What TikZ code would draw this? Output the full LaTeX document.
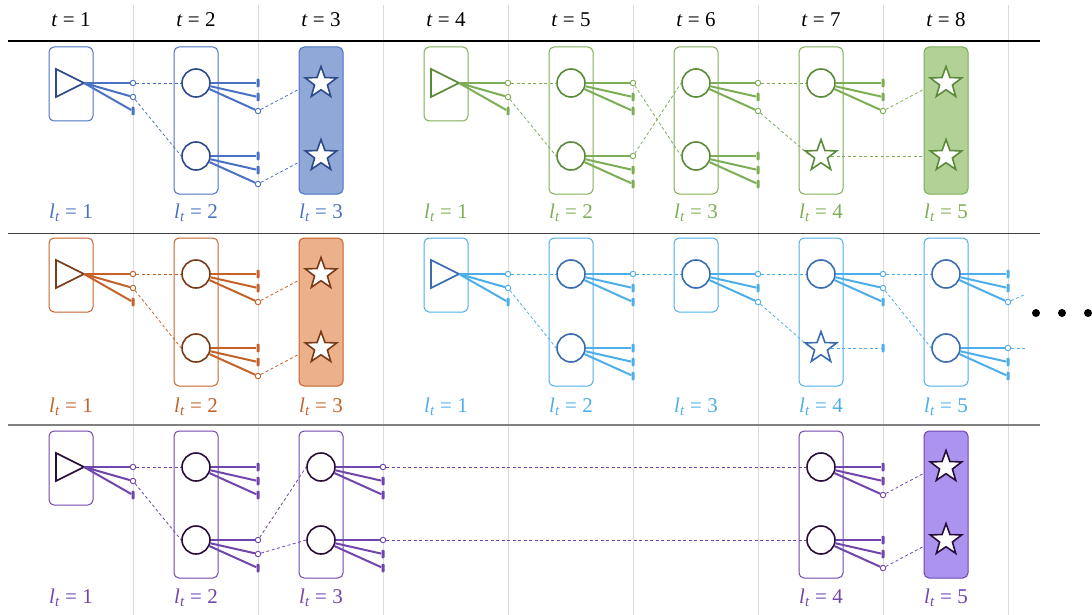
\documentclass[tikz,border=0pt]{standalone}
\usepackage{fontspec}
\setmainfont{Liberation Serif}
\usetikzlibrary{shapes.geometric, backgrounds}

\definecolor{blueL}{HTML}{4A72C4}
\definecolor{blueD}{HTML}{2E4A8A}
\definecolor{blueF}{HTML}{8FA8D8}
\definecolor{greenL}{HTML}{7DAE55}
\definecolor{greenD}{HTML}{5B8A3A}
\definecolor{greenF}{HTML}{B1D196}
\definecolor{orangeL}{HTML}{C4622A}
\definecolor{orangeD}{HTML}{7A3C18}
\definecolor{orangeF}{HTML}{ECB08A}
\definecolor{skyL}{HTML}{4DAEEA}
\definecolor{skyD}{HTML}{3A6CB0}
\definecolor{purpleL}{HTML}{7045AC}
\definecolor{purpleD}{HTML}{2A0E3A}
\definecolor{purpleF}{HTML}{AB94F0}

\tikzset{
  box/.style={draw=lc, line width=1pt, rounded corners=5pt},
  ring/.style={circle, draw=nc, fill=white, line width=1.6pt, minimum size=28pt, inner sep=0pt},
  tri/.style={isosceles triangle, isosceles triangle stretches, minimum width=28pt, minimum height=28pt,
    inner sep=0pt, outer sep=0pt, draw=nc, fill=white, line width=1.6pt, anchor=apex},
  starn/.style={star, star points=5, star point ratio=2.45, draw=nc, fill=white, line width=1.6pt,
    minimum size=33pt, inner sep=0pt},
  openend/.style={circle, draw=lc, fill=white, line width=0.9pt, minimum size=5.5pt, inner sep=0pt},
  barend/.style={rectangle, fill=lc, minimum width=3pt, minimum height=8.5pt, inner sep=0pt, rounded corners=0.8pt},
  portline/.style={draw=lc, line width=2pt},
  link/.style={draw=lc, line width=0.8pt, dash pattern=on 3pt off 2.5pt},
  lab/.style={text=lc, font=\fontsize{21}{25}\selectfont},
  hdr/.style={font=\fontsize{21}{25}\selectfont},
  colline/.style={draw=black!14, line width=1pt}
}

% three output ports of a node: source, name, x, y, kinds
\newcommand{\fan}[5]{%
  \foreach \k/\e in {#5} {
    \node[\e] (#2-\k) at (#3,#4+14*\k) {};
    \draw[portline] (#1) -- (#2-\k);
  }%
}
\newcommand{\ltlab}[1]{\textit{l}\textsubscript{\textit{t}} = #1}

\begin{document}
\begin{tikzpicture}[x=1pt, y=-1pt]
\useasboundingbox (0,0) rectangle (1092,615);

% grid
\begin{scope}[on background layer]
  \foreach \x in {133,258,...,1008}
    \draw[colline] (\x,5) -- (\x,615);
  \draw[line width=1.8pt] (8,41) -- (1040,41);
  \draw[black!75, line width=1pt] (8,233) -- (1040,233);
  \draw[black!50, line width=1.2pt] (8,425) -- (1040,425);
\end{scope}
\foreach \t in {1,...,8}
  \node[hdr] (h\t) at ({71+125*(\t-1)},20) {\textit{t} = \t};

% row 1, blue
\begin{scope}
  \colorlet{lc}{blueL}\colorlet{nc}{blueD}
  \draw[box] (49,47) rectangle (93,121);
  \draw[box] (174,47) rectangle (218,194);
  \draw[box, fill=blueF] (299,47) rectangle (343,194);
  \node[tri] (A1n) at (84,83) {};
  \node[ring] (A2u) at (196,83) {};
  \node[ring] (A2d) at (196,156) {};
  \node[starn] (A3u) at (321,83) {};
  \node[starn] (A3d) at (321,156) {};
  \fan{A1n.apex}{A1n}{133}{83}{0/openend,1/openend,2/barend}
  \fan{A2u}{A2u}{258}{83}{0/barend,1/barend,2/openend}
  \fan{A2d}{A2d}{258}{156}{0/barend,1/barend,2/openend}
  \begin{scope}[on background layer]
    \draw[link] (A1n-0) -- (A2u.west);
    \draw[link] (A1n-1) -- (A2d.west);
    \draw[link] (A2u-2) -- (A3u.west);
    \draw[link] (A2d-2) -- (A3d.west);
  \end{scope}
  \node[lab] (A1l) at (71,213) {\ltlab{1}};
  \node[lab] (A2l) at (196,213) {\ltlab{2}};
  \node[lab] (A3l) at (321,213) {\ltlab{3}};
\end{scope}

% row 1, green
\begin{scope}
  \colorlet{lc}{greenL}\colorlet{nc}{greenD}
  \draw[box] (424,47) rectangle (468,121);
  \draw[box] (549,47) rectangle (593,194);
  \draw[box] (674,47) rectangle (718,194);
  \draw[box] (799,47) rectangle (843,194);
  \draw[box, fill=greenF] (924,47) rectangle (968,194);
  \node[tri] (A4n) at (459,83) {};
  \node[ring] (A5u) at (571,83) {};
  \node[ring] (A5d) at (571,156) {};
  \node[ring] (A6u) at (696,83) {};
  \node[ring] (A6d) at (696,156) {};
  \node[ring] (A7u) at (821,83) {};
  \node[starn] (A7d) at (821,156) {};
  \node[starn] (A8u) at (946,83) {};
  \node[starn] (A8d) at (946,156) {};
  \fan{A4n.apex}{A4n}{508}{83}{0/openend,1/openend,2/barend}
  \fan{A5u}{A5u}{633}{83}{0/openend,1/barend,2/barend}
  \fan{A5d}{A5d}{633}{156}{0/openend,1/barend,2/barend}
  \fan{A6u}{A6u}{758}{83}{0/openend,1/barend,2/openend}
  \fan{A6d}{A6d}{758}{156}{0/barend,1/barend,2/barend}
  \fan{A7u}{A7u}{883}{83}{0/barend,1/barend,2/openend}
  \begin{scope}[on background layer]
    \draw[link] (A4n-0) -- (A5u.west);
    \draw[link] (A4n-1) -- (A5d.west);
    \draw[link] (A5u-0) -- (A6d.west);
    \draw[link] (A5d-0) -- (A6u.west);
    \draw[link] (A6u-0) -- (A7u.west);
    \draw[link] (A6u-2) -- (A7d.west);
    \draw[link] (A7u-2) -- (A8u.west);
    \draw[link] (A7d.east) -- (A8d.west);
  \end{scope}
  \node[lab] (A4l) at (446,213) {\ltlab{1}};
  \node[lab] (A5l) at (571,213) {\ltlab{2}};
  \node[lab] (A6l) at (696,213) {\ltlab{3}};
  \node[lab] (A7l) at (821,213) {\ltlab{4}};
  \node[lab] (A8l) at (946,213) {\ltlab{5}};
\end{scope}

% row 2, orange
\begin{scope}
  \colorlet{lc}{orangeL}\colorlet{nc}{orangeD}
  \draw[box] (49,238) rectangle (93,312);
  \draw[box] (174,238) rectangle (218,386);
  \draw[box, fill=orangeF] (299,238) rectangle (343,386);
  \node[tri] (B1n) at (84,274) {};
  \node[ring] (B2u) at (196,274) {};
  \node[ring] (B2d) at (196,348) {};
  \node[starn] (B3u) at (321,274) {};
  \node[starn] (B3d) at (321,348) {};
  \fan{B1n.apex}{B1n}{133}{274}{0/openend,1/openend,2/barend}
  \fan{B2u}{B2u}{258}{274}{0/barend,1/barend,2/openend}
  \fan{B2d}{B2d}{258}{348}{0/barend,1/barend,2/openend}
  \begin{scope}[on background layer]
    \draw[link] (B1n-0) -- (B2u.west);
    \draw[link] (B1n-1) -- (B2d.west);
    \draw[link] (B2u-2) -- (B3u.west);
    \draw[link] (B2d-2) -- (B3d.west);
  \end{scope}
  \node[lab] (B1l) at (71,407) {\ltlab{1}};
  \node[lab] (B2l) at (196,407) {\ltlab{2}};
  \node[lab] (B3l) at (321,407) {\ltlab{3}};
\end{scope}

% row 2, light blue
\begin{scope}
  \colorlet{lc}{skyL}\colorlet{nc}{skyD}
  \draw[box] (424,238) rectangle (468,312);
  \draw[box] (549,238) rectangle (593,386);
  \draw[box] (674,238) rectangle (718,312);
  \draw[box] (799,238) rectangle (843,386);
  \draw[box] (924,238) rectangle (968,386);
  \node[tri] (B4n) at (459,274) {};
  \node[ring] (B5u) at (571,274) {};
  \node[ring] (B5d) at (571,348) {};
  \node[ring] (B6u) at (696,274) {};
  \node[ring] (B7u) at (821,274) {};
  \node[starn] (B7d) at (821,348) {};
  \node[ring] (B8u) at (946,274) {};
  \node[ring] (B8d) at (946,348) {};
  \fan{B4n.apex}{B4n}{508}{274}{0/openend,1/openend,2/barend}
  \fan{B5u}{B5u}{633}{274}{0/openend,1/barend,2/barend}
  \fan{B5d}{B5d}{633}{348}{0/barend,1/barend,2/barend}
  \fan{B6u}{B6u}{758}{274}{0/openend,1/barend,2/openend}
  \fan{B7u}{B7u}{883}{274}{0/openend,1/openend,2/barend}
  \fan{B8u}{B8u}{1008}{274}{0/barend,1/barend,2/openend}
  \fan{B8d}{B8d}{1008}{348}{0/openend,1/barend,2/barend}
  \node[barend] (B7d-0) at (883,348) {};
  \coordinate (B8u-x) at (1026,294);
  \coordinate (B8d-x) at (1026,348);
  \begin{scope}[on background layer]
    \draw[link] (B4n-0) -- (B5u.west);
    \draw[link] (B4n-1) -- (B5d.west);
    \draw[link] (B5u-0) -- (B6u.west);
    \draw[link] (B6u-0) -- (B7u.west);
    \draw[link] (B6u-2) -- (B7d.west);
    \draw[link] (B7d.east) -- (B7d-0);
    \draw[link] (B7u-0) -- (B8u.west);
    \draw[link] (B7u-1) -- (B8d.west);
    \draw[link] (B8u-2) -- (B8u-x);
    \draw[link] (B8d-0) -- (B8d-x);
  \end{scope}
  \node[lab] (B4l) at (446,407) {\ltlab{1}};
  \node[lab] (B5l) at (571,407) {\ltlab{2}};
  \node[lab] (B6l) at (696,407) {\ltlab{3}};
  \node[lab] (B7l) at (821,407) {\ltlab{4}};
  \node[lab] (B8l) at (946,407) {\ltlab{5}};
\end{scope}
\foreach \x in {1036,1062,1088}
  \fill (\x,313) circle (4);

% row 3, purple
\begin{scope}
  \colorlet{lc}{purpleL}\colorlet{nc}{purpleD}
  \draw[box] (49,431) rectangle (93,505);
  \draw[box] (174,431) rectangle (218,578);
  \draw[box] (299,431) rectangle (343,578);
  \draw[box] (799,431) rectangle (843,578);
  \draw[box, fill=purpleF] (924,431) rectangle (968,578);
  \node[tri] (C1n) at (84,467) {};
  \node[ring] (C2u) at (196,467) {};
  \node[ring] (C2d) at (196,540) {};
  \node[ring] (C3u) at (321,467) {};
  \node[ring] (C3d) at (321,540) {};
  \node[ring] (C7u) at (821,467) {};
  \node[ring] (C7d) at (821,540) {};
  \node[starn] (C8u) at (946,467) {};
  \node[starn] (C8d) at (946,540) {};
  \fan{C1n.apex}{C1n}{133}{467}{0/openend,1/openend,2/barend}
  \fan{C2u}{C2u}{258}{467}{0/barend,1/barend,2/barend}
  \fan{C2d}{C2d}{258}{540}{0/openend,1/openend,2/barend}
  \fan{C3u}{C3u}{383}{467}{0/openend,1/barend,2/barend}
  \fan{C3d}{C3d}{383}{540}{0/openend,1/barend,2/barend}
  \fan{C7u}{C7u}{883}{467}{0/barend,1/barend,2/openend}
  \fan{C7d}{C7d}{883}{540}{0/barend,1/barend,2/openend}
  \begin{scope}[on background layer]
    \draw[link] (C1n-0) -- (C2u.west);
    \draw[link] (C1n-1) -- (C2d.west);
    \draw[link] (C2d-0) -- (C3u.west);
    \draw[link] (C2d-1) -- (C3d.west);
    \draw[link] (C3u-0) -- (C7u.west);
    \draw[link] (C3d-0) -- (C7d.west);
    \draw[link] (C7u-2) -- (C8u.west);
    \draw[link] (C7d-2) -- (C8d.west);
  \end{scope}
  \node[lab] (C1l) at (71,598) {\ltlab{1}};
  \node[lab] (C2l) at (196,598) {\ltlab{2}};
  \node[lab] (C3l) at (321,598) {\ltlab{3}};
  \node[lab] (C7l) at (821,598) {\ltlab{4}};
  \node[lab] (C8l) at (946,598) {\ltlab{5}};
\end{scope}

\end{tikzpicture}
\end{document}
